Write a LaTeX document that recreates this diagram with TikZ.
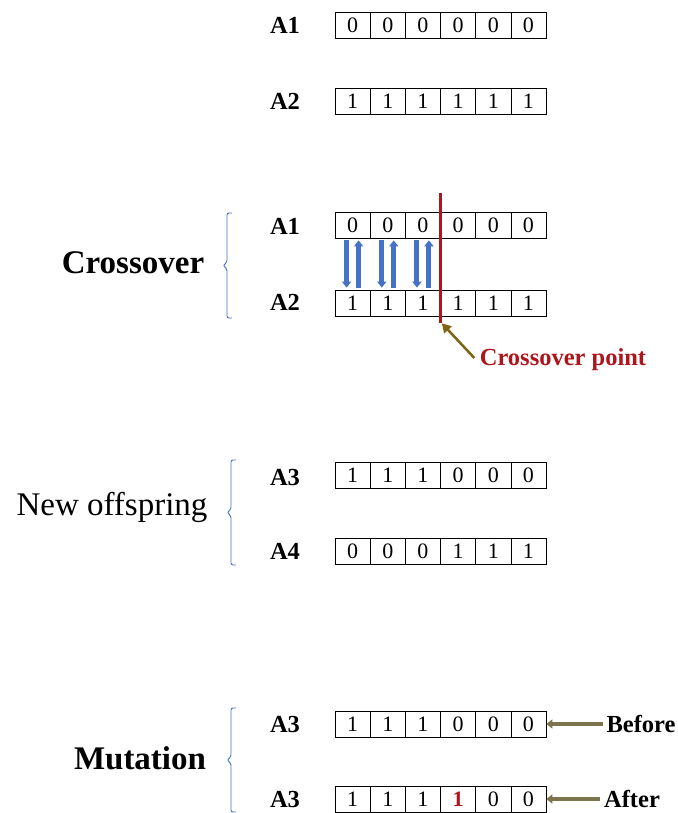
\documentclass[tikz,border=0pt]{standalone}
\usepackage{fontspec}
\setmainfont{Liberation Serif}
\usetikzlibrary{arrows.meta}
\definecolor{figB}{RGB}{68,114,196}
\definecolor{figR}{RGB}{172,22,28}
\definecolor{figO}{RGB}{128,100,22}
\definecolor{figG}{RGB}{124,116,76}
% one chromosome: name, y, six genes
\newcommand{\chrom}[3]{\foreach \bit [count=\i] in {#3}
  {\node[cell] (#1-\i) at ({335+35.17*(\i-0.5)},#2) {\bit};}}
% blue bracket: x, top, bottom
\newcommand{\grpbrace}[3]{\draw[brk] (#1+5,#2) -- (#1,#2) -- (#1,{(#2+#3)/2-3})
  -- (#1-4,{(#2+#3)/2}) -- (#1,{(#2+#3)/2+3}) -- (#1,#3) -- (#1+5,#3);}

\begin{document}
\begin{tikzpicture}[x=1pt,y=-1pt,
  cell/.style={draw,line width=0.7pt,minimum width=35.17pt,minimum height=26pt,inner sep=0pt,font=\fontsize{22}{24}\selectfont},
  tag/.style={font=\fontsize{24.5}{28}\selectfont\bfseries},
  head/.style={font=\fontsize{33}{38}\selectfont},
  brk/.style={figB,line width=0.9pt,rounded corners=2pt},
  swap/.style={figB,line width=5pt,-{Triangle[length=6pt,width=9pt]},shorten <=2pt,shorten >=2pt},
  ptr/.style={figG,line width=4pt,-{Triangle[length=6pt,width=9pt]}}]
\useasboundingbox (0,0) rectangle (677,813);
% parents
\node[tag] (lp1) at (285,25) {A1}; \chrom{p1}{25}{0,0,0,0,0,0}
\node[tag] (lp2) at (285,101) {A2}; \chrom{p2}{101}{1,1,1,1,1,1}
% crossover
\node[head,font=\fontsize{33}{38}\selectfont\bfseries] (hx) at (133,263) {Crossover};
\grpbrace{227}{213}{318}
\node[tag] (lx1) at (285,226) {A1}; \chrom{x1}{225}{0,0,0,0,0,0}
\node[tag] (lx2) at (285,302) {A2}; \chrom{x2}{303}{1,1,1,1,1,1}
\foreach \i in {1,2,3} {
  \draw[swap] ([xshift=-6pt]x1-\i.south) -- ([xshift=-6pt]x2-\i.north);
  \draw[swap] ([xshift=6pt]x2-\i.north) -- ([xshift=6pt]x1-\i.south);
}
\coordinate (cut) at ([yshift=-7pt]x2-3.south east);
\draw[figR,line width=3pt] ([yshift=19pt]x1-3.north east) -- (cut);
\node[tag,text=figR] (cp) at (563,360) {Crossover point};
\draw[ptr,figO,line width=2.5pt,-{Triangle[length=9pt,width=10pt]}] ([xshift=-2pt,yshift=2pt]cp.west) -- ([xshift=1pt]cut);
% new offspring
\node[head] (ho) at (112,507) {New offspring};
\grpbrace{231}{460}{565}
\node[tag] (lo3) at (285,478) {A3}; \chrom{o3}{475}{1,1,1,0,0,0}
\node[tag] (lo4) at (285,551) {A4}; \chrom{o4}{551}{0,0,0,1,1,1}
% mutation
\node[head,font=\fontsize{33}{38}\selectfont\bfseries] (hm) at (140,758) {Mutation};
\grpbrace{231}{708}{812}
\node[tag] (lmb) at (285,725) {A3}; \chrom{mb}{724}{1,1,1,0,0,0}
\node[tag,inner sep=1pt] (lma) at (285,799) {A3}; \chrom{ma}{799}{1,1,1,\textcolor{figR}{\bfseries 1},0,0}
\node[tag] (bf) at (641,724) {Before};
\node[tag,inner sep=1pt] (af) at (632,799) {After};
\draw[ptr] (bf.west) -- (mb-6.east);
\draw[ptr] ([xshift=-3pt]af.west) -- (ma-6.east);
\end{tikzpicture}
\end{document}
